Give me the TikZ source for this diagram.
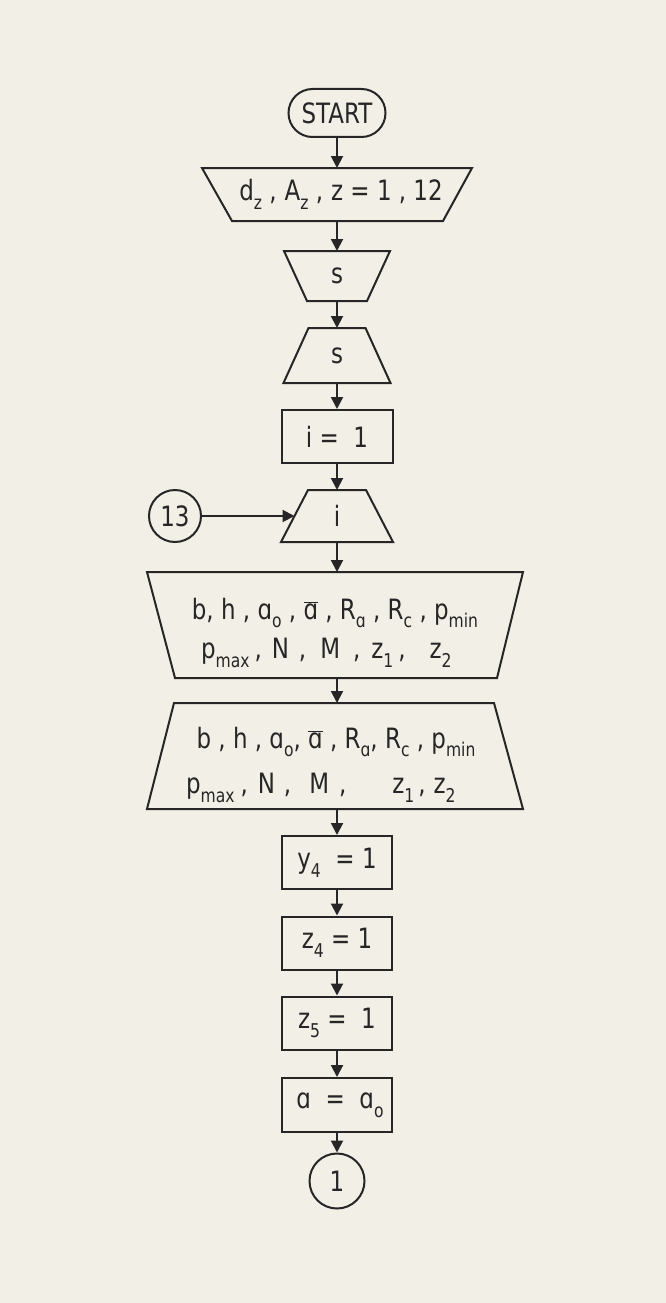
\documentclass[tikz,border=0pt]{standalone}
\usepackage{fontspec}
\setmainfont{DejaVu Sans}[FakeStretch=0.82]
\usetikzlibrary{arrows.meta,calc}
\definecolor{paper}{RGB}{242,239,231}
\definecolor{ink}{RGB}{38,38,38}
\newcommand\sbs[1]{\raisebox{-0.32em}{\fontsize{19}{19}\selectfont #1}}
\newcommand\abar{$\overline{\hbox{ɑ}}$}
\tikzset{
  hold/.style={inner sep=0pt, outer sep=0pt},
  boxnode/.style={draw, inner sep=0pt, minimum width=110pt, minimum height=53pt},
  conn/.style={draw, minimum size=#1, circle, inner sep=0pt},
  arr/.style={-{Triangle[length=12pt,width=12pt]}},
  txt/.style={font=\fontsize{28}{32}\selectfont, inner sep=0pt}
}
\begin{document}
\begin{tikzpicture}[x=1pt,y=-1pt, line width=2pt, draw=ink, text=ink, line join=miter,
  every node/.style={font=\fontsize{28}{32}\selectfont, text=ink}]
\fill[paper] (0,0) rectangle (666,1303);
\useasboundingbox (0,0) rectangle (666,1303);

% START
\node[draw, rounded corners=24pt, minimum width=97pt, minimum height=48pt, inner sep=0pt] (start) at (337,113) {START};

% d_z input (wider on top)
\node[hold, minimum width=270pt, minimum height=53pt] (dz) at (337,194.5) {\hspace{8pt}d\sbs{z} ,\hspace{8pt}A\sbs{z} ,\hspace{8pt}z = 1 , 12};
\draw (dz.north west) -- (dz.north east) -- ([xshift=-29pt]dz.south east) -- ([xshift=30pt]dz.south west) -- cycle;

% s (wider on top)
\node[hold, minimum width=106pt, minimum height=50pt] (s1) at (337,276) {s};
\draw (s1.north west) -- (s1.north east) -- ([xshift=-23pt]s1.south east) -- ([xshift=23pt]s1.south west) -- cycle;

% s (wider on bottom)
\node[hold, minimum width=107pt, minimum height=55pt] (s2) at (337,355.5) {s};
\draw ([xshift=25pt]s2.north west) -- ([xshift=-25pt]s2.north east) -- (s2.south east) -- (s2.south west) -- cycle;

% i = 1
\node[boxnode, minimum width=111pt] (i1) at (337,436.5) {i\ = \ 1};

% i (wider on bottom)
\node[hold, minimum width=112pt, minimum height=52pt] (it) at (337,516) {i};
\draw ([xshift=27pt]it.north west) -- ([xshift=-27pt]it.north east) -- (it.south east) -- (it.south west) -- cycle;
\coordinate (itin) at ($([xshift=27pt]it.north west)!0.5!(it.south west)$);

% connector 13
\node[conn=52pt] (c13) at (175,516) {13};

% big input 1 (wider on top)
\node[hold, minimum width=376pt, minimum height=106pt] (T1) at (335,625) {};
\draw (T1.north west) -- (T1.north east) -- ([xshift=-26pt]T1.south east) -- ([xshift=28pt]T1.south west) -- cycle;
\node[txt] (T1a) at (335,613) {b, h , ɑ\sbs{o} , \abar\ , R\sbs{ɑ} , R\sbs{c} , p\sbs{min}};
\node[txt, anchor=west] (T1b) at (200,653) {p\sbs{max}\hspace{5pt},\hspace{10pt}N\hspace{10pt},\hspace{14pt}M\hspace{13pt},\hspace{11pt}z\sbs{1}\hspace{5pt},\hspace{24pt}z\sbs{2}};

% big output 2 (wider on bottom)
\node[hold, minimum width=376pt, minimum height=106pt] (T2) at (335,756) {};
\draw ([xshift=27pt]T2.north west) -- ([xshift=-29pt]T2.north east) -- (T2.south east) -- (T2.south west) -- cycle;
\node[txt] (T2a) at (336,742) {b , h , ɑ\sbs{o}, \abar\ , R\sbs{ɑ}, R\sbs{c} , p\sbs{min}};
\node[txt, anchor=west] (T2b) at (185,788) {p\sbs{max}\hspace{6pt},\hspace{10pt}N\hspace{9pt},\hspace{18pt}M\hspace{10pt},\hspace{46pt}z\sbs{1}\hspace{4pt},\hspace{8pt}z\sbs{2}};

% boxes
\node[boxnode] (y4) at (337,862.5) {y\sbs{4}\ \ = 1};
\node[boxnode] (z4) at (337,943) {z\sbs{4}\ = 1};
\node[boxnode] (z5) at (337,1023) {z\sbs{5} = \ 1};
\node[boxnode, minimum height=54pt] (aa) at (337,1105) {\hspace{6pt}ɑ\ \ = \ ɑ\sbs{o}};

% connector 1
\node[conn=55pt] (c1) at (337,1181) {1};

% arrows
\draw[arr] (start.south) -- (dz.north);
\draw[arr] (dz.south) -- (s1.north);
\draw[arr] (s1.south) -- (s2.north);
\draw[arr] (s2.south) -- (i1.north);
\draw[arr] (i1.south) -- (it.north);
\draw[arr] (c13.east) -- (itin);
\draw[arr] (it.south) -- (it.south |- T1.north);
\draw[arr] (T1.south -| it.south) -- (it.south |- T2.north);
\draw[arr] (T2.south -| y4.north) -- (y4.north);
\draw[arr] (y4.south) -- (z4.north);
\draw[arr] (z4.south) -- (z5.north);
\draw[arr] (z5.south) -- (aa.north);
\draw[arr] (aa.south) -- (c1.north);
\end{tikzpicture}
\end{document}
